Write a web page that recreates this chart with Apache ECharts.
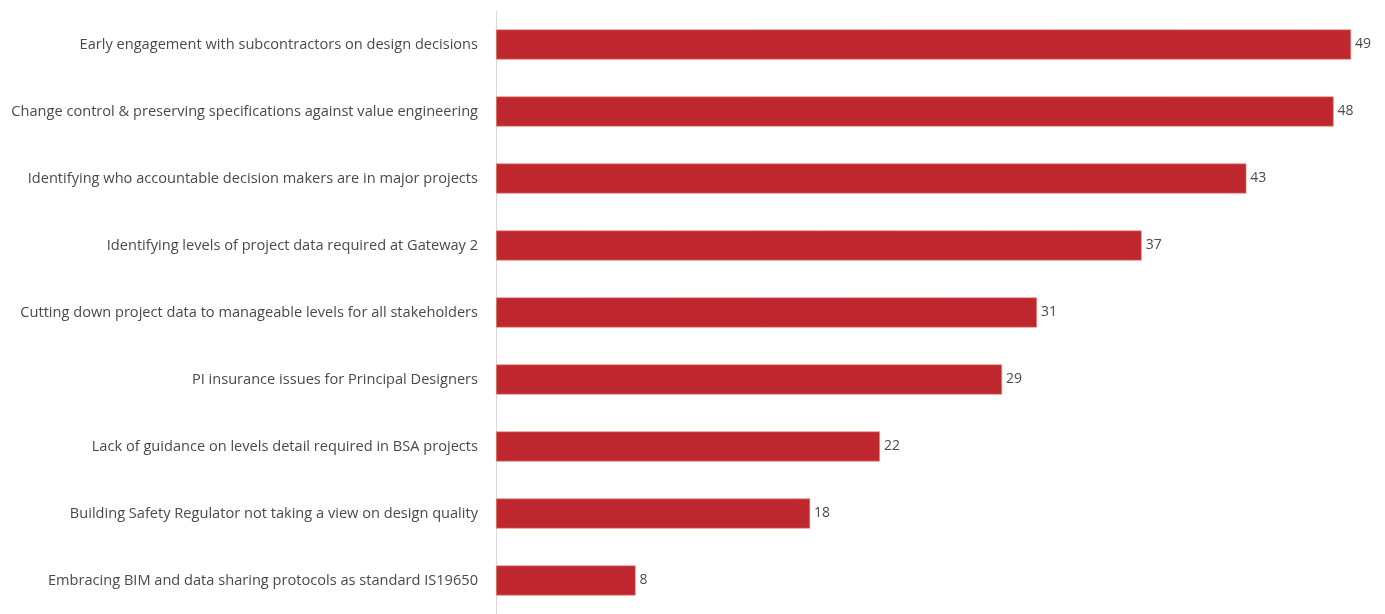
<!DOCTYPE html>
<html>
<head>
<meta charset="utf-8">
<script src="https://cdn.jsdelivr.net/npm/echarts@6/dist/echarts.min.js"></script>
<style>html,body{margin:0;padding:0;background:#fff}#c{width:1385px;height:614px}</style>
</head>
<body>
<div id="c"></div>
<script>
const categories = [
  "Early engagement with subcontractors on design decisions",
  "Change control & preserving specifications against value engineering",
  "Identifying who accountable decision makers are in major projects",
  "Identifying levels of project data required at Gateway 2",
  "Cutting down project data to manageable levels for all stakeholders",
  "PI insurance issues for Principal Designers",
  "Lack of guidance on levels detail required in BSA projects",
  "Building Safety Regulator not taking a view on design quality",
  "Embracing BIM and data sharing protocols as standard IS19650"
];
const values = [49, 48, 43, 37, 31, 29, 22, 18, 8];

const chart = echarts.init(document.getElementById('c'), null, {renderer: 'canvas'});
chart.setOption({
  animation: false,
  grid: {left: 496, right: 16.5, top: 11, bottom: 0, containLabel: false},
  xAxis: {
    type: 'value', min: 0, max: 50,
    show: false
  },
  yAxis: {
    type: 'category',
    data: categories,
    inverse: true,
    axisLine: {show: true, lineStyle: {color: '#d9d9d9', width: 1}},
    axisTick: {show: false},
    axisLabel: {
      color: '#4a4a4a', fontFamily: 'Open Sans', fontSize: 14.6, margin: 18
    }
  },
  series: [{
    type: 'bar',
    data: values,
    barWidth: 30,
    itemStyle: {color: '#be272e', borderColor: '#e58a78', borderWidth: 0.6},
    label: {
      show: true, position: 'right', distance: 4,
      color: '#4a4a4a', fontFamily: 'Open Sans', fontSize: 14
    }
  }]
});
</script>
</body>
</html>
